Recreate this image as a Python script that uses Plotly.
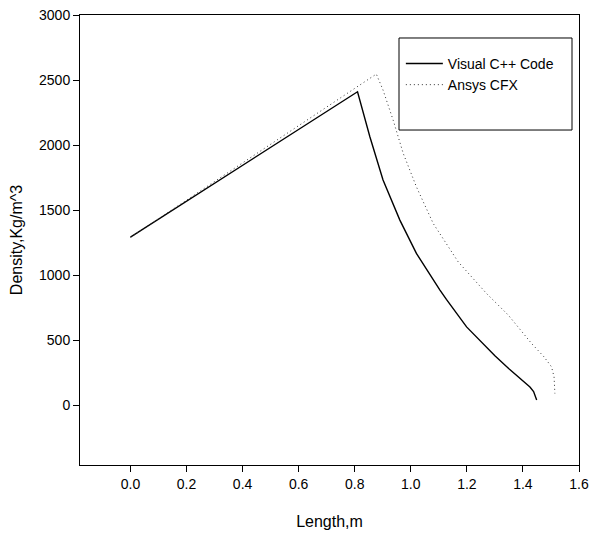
import plotly.graph_objects as go

# Visual C++ Code (solid)
cpp_x = [0.0, 0.81, 0.854, 0.901, 0.961, 1.020, 1.104, 1.127, 1.199, 1.25, 1.30, 1.35, 1.40, 1.425, 1.438, 1.445, 1.449]
cpp_y = [1292, 2410, 2064, 1731, 1423, 1167, 885, 813, 602, 487, 380, 280, 185, 140, 105, 70, 40]

# Ansys CFX (dotted)
cfx_x = [0.0, 0.877, 0.901, 0.937, 0.973, 1.020, 1.080, 1.169, 1.270, 1.348, 1.431, 1.475, 1.502, 1.511, 1.514]
cfx_y = [1290, 2546, 2423, 2192, 1936, 1679, 1397, 1102, 859, 692, 474, 372, 295, 218, 90]

x_ticks = [0.0, 0.2, 0.4, 0.6, 0.8, 1.0, 1.2, 1.4, 1.6]
y_ticks = [0, 500, 1000, 1500, 2000, 2500, 3000]

FONT = "Liberation Sans, Arial, sans-serif"

fig = go.Figure()
fig.add_trace(go.Scatter(x=cpp_x, y=cpp_y, mode="lines", name="Visual C++ Code",
                         line=dict(color="black", width=1.4)))
fig.add_trace(go.Scatter(x=cfx_x, y=cfx_y, mode="lines", name="Ansys CFX",
                         line=dict(color="#333333", width=1, dash="1px,3px")))

axis_common = dict(showline=True, linecolor="black", linewidth=1, mirror=True,
                   ticks="outside", ticklen=6, tickcolor="black", showgrid=False,
                   zeroline=False, automargin=False,
                   tickfont=dict(family=FONT, size=14, color="black"))

fig.update_layout(
    width=590, height=543,
    margin=dict(l=80, r=11, t=15, b=78),
    plot_bgcolor="white", paper_bgcolor="white",
    font=dict(family=FONT, color="black"),
    xaxis=dict(range=[-0.18, 1.6], tickvals=x_ticks, ticktext=[f"{v:.1f}" for v in x_ticks],
               title=dict(text="Length,m", font=dict(size=16), standoff=25), **axis_common),
    yaxis=dict(range=[-460, 3000], tickvals=y_ticks,
               title=dict(text="Density,Kg/m^3", font=dict(size=16), standoff=12), **axis_common),
    legend=dict(x=0.643, y=0.927, xanchor="left", yanchor="top",
                borderwidth=0, bgcolor="rgba(0,0,0,0)", itemwidth=37,
                font=dict(size=14, family=FONT)),
    shapes=[dict(type="rect", xref="paper", yref="paper",
                 x0=0.6393, x1=0.986, y0=0.7444, y1=0.9489,
                 line=dict(color="black", width=1), fillcolor="rgba(0,0,0,0)")],
    showlegend=True,
)

fig.write_html("out.html")
